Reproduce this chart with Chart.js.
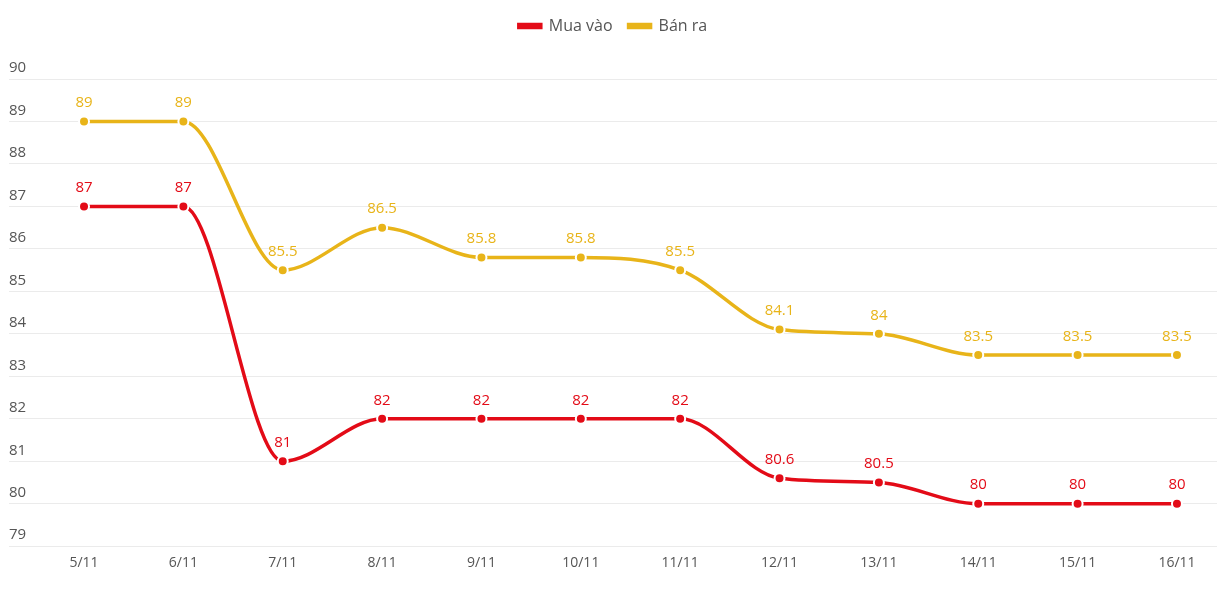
<!DOCTYPE html>
<html>
<head>
<meta charset="utf-8">
<script src="https://cdn.jsdelivr.net/npm/chart.js@4.4.1/dist/chart.umd.min.js"></script>
<style>
  html, body { margin: 0; padding: 0; background: #fff; overflow: hidden; }
  #wrap { width: 1217px; height: 601px; position: relative; }
  canvas { display: block; }
</style>
</head>
<body>
<div id="wrap"><canvas id="giaChart"></canvas></div>
<script>
// du lieu
const ngay = ['5/11', '6/11', '7/11', '8/11', '9/11', '10/11', '11/11', '12/11', '13/11', '14/11', '15/11', '16/11'];
const muaVao = [87, 87, 81, 82, 82, 82, 82, 80.6, 80.5, 80, 80, 80];
const banRa = [89, 89, 85.5, 86.5, 85.8, 85.8, 85.5, 84.1, 84, 83.5, 83.5, 83.5];
const yTicks = [79, 80, 81, 82, 83, 84, 85, 86, 87, 88, 89, 90];

const DO = '#e30b17';
const VANG = '#e8b419';
const fontChu = "'Open Sans', 'Noto Sans', sans-serif";

// ve nhan gia tri tren moi diem
const nhanGiaTri = {
    id: 'nhanGiaTri',
    afterDatasetsDraw(chart) {
        const ctx = chart.ctx;
        ctx.save();
        ctx.font = '15px ' + fontChu;
        ctx.textAlign = 'center';
        ctx.textBaseline = 'bottom';
        chart.data.datasets.forEach((ds, i) => {
            const meta = chart.getDatasetMeta(i);
            ctx.fillStyle = ds.borderColor;
            meta.data.forEach((p, j) => {
                ctx.fillText(String(ds.data[j].y), p.x, p.y - 11);
            });
        });
        ctx.restore();
    }
};

// khoang cach giua chu thich va bieu do
const legendMargin = {
    id: 'legendMargin',
    beforeInit(chart) {
        const fitGoc = chart.legend.fit;
        chart.legend.fit = function () {
            fitGoc.bind(chart.legend)();
            this.height += 35;
        };
    }
};

const ctx = document.getElementById('giaChart').getContext('2d');
const giaChart = new Chart(ctx, {
    type: 'line',
    data: {
        datasets: [
            {
                label: 'Mua vào',
                data: muaVao.map((v, i) => ({ x: i, y: v })),
                borderColor: DO,
                backgroundColor: DO,
                pointBackgroundColor: DO,
                borderWidth: 3.5,
                pointRadius: 5,
                pointBorderColor: '#fff',
                pointBorderWidth: 2,
                cubicInterpolationMode: 'monotone',
                clip: false
            },
            {
                label: 'Bán ra',
                data: banRa.map((v, i) => ({ x: i, y: v })),
                borderColor: VANG,
                backgroundColor: VANG,
                pointBackgroundColor: VANG,
                borderWidth: 3.5,
                pointRadius: 5,
                pointBorderColor: '#fff',
                pointBorderWidth: 2,
                cubicInterpolationMode: 'monotone',
                clip: false
            }
        ]
    },
    options: {
        responsive: true,
        maintainAspectRatio: false,
        animation: false,
        layout: { autoPadding: false, padding: { left: 9, right: 0, top: 2, bottom: 22 } },
        plugins: {
            legend: {
                position: 'top',
                labels: {
                    boxWidth: 22,
                    boxHeight: 3,
                    padding: 16,
                    color: '#555',
                    font: { family: fontChu, size: 16 }
                }
            },
            tooltip: { enabled: false }
        },
        scales: {
            x: {
                type: 'linear',
                min: -0.755,
                max: 11.403,
                grid: { display: false, drawTicks: false },
                border: { display: false },
                afterBuildTicks: (scale) => {
                    scale.ticks = ngay.map((_, i) => ({ value: i }));
                },
                afterFit: (scale) => {
                    scale.paddingLeft = 0;
                    scale.paddingRight = 0;
                },
                ticks: {
                    autoSkip: false,
                    maxRotation: 0,
                    padding: 8,
                    color: '#555',
                    font: { family: fontChu, size: 14 },
                    callback: (v) => ngay[v]
                }
            },
            y: {
                min: 79,
                max: 90,
                afterBuildTicks: (scale) => {
                    scale.ticks = yTicks.map(v => ({ value: v }));
                },
                grid: { color: '#ebebeb', drawTicks: false },
                border: { display: false },
                ticks: {
                    mirror: true,
                    padding: 0,
                    labelOffset: -11,
                    color: '#555',
                    font: { family: fontChu, size: 15 }
                }
            }
        }
    },
    plugins: [nhanGiaTri, legendMargin]
});
</script>
</body>
</html>
